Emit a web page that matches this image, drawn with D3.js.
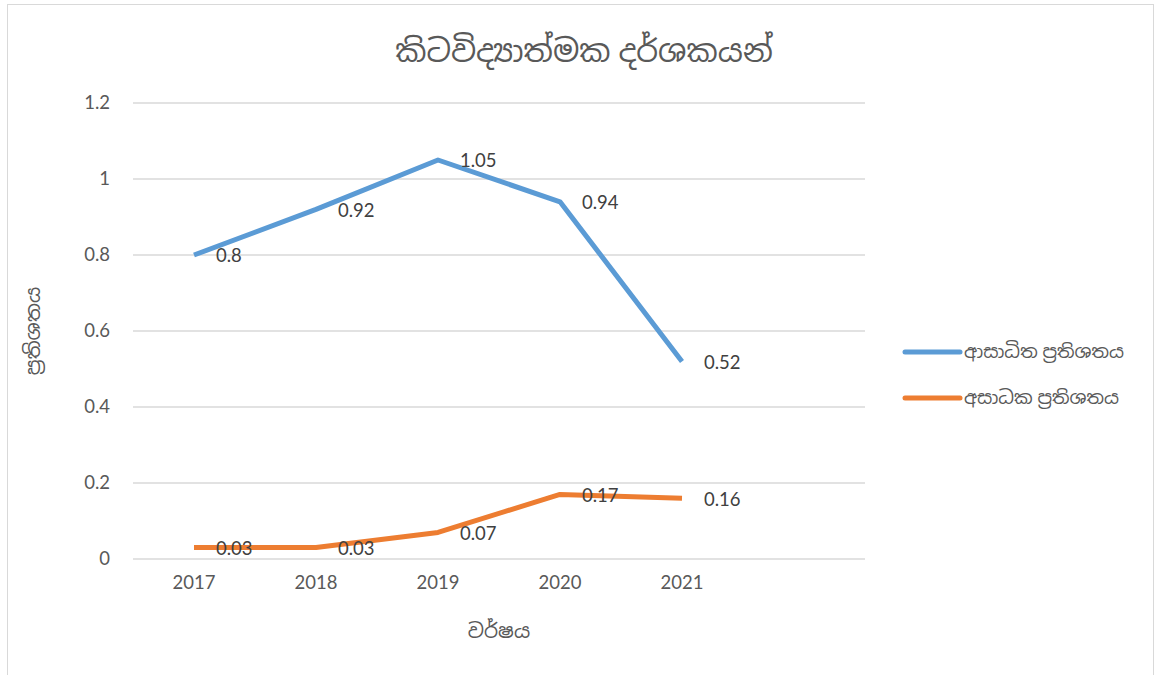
<!DOCTYPE html>
<html><head><meta charset="utf-8">
<script src="https://cdn.jsdelivr.net/npm/d3@7"></script>
<style>body{margin:0;background:#fff}svg{display:block}text{font-family:Lato,"Noto Sans","Noto Sans Sinhala",sans-serif}</style>
</head><body>
<script>
const categories = ["2017","2018","2019","2020","2021"];
const seriesNames = ["ආසාධිත ප්‍රතිශතය","අසාධක ප්‍රතිශතය"];
const infectedPct = [0.8,0.92,1.05,0.94,0.52];
const agentPct = [0.03,0.03,0.07,0.17,0.16];
const yTicks = [0,0.2,0.4,0.6,0.8,1,1.2];
const yTickLabels = ["0","0.2","0.4","0.6","0.8","1","1.2"];
const titleText = "කිටවිද්‍යාත්මක දර්ශකයන්";
const xTitle = "වර්ෂය";
const yTitle = "ප්‍රතිශතය";
const colors = ["#5B9BD5","#ED7D31"];

(function(){
const W=1156,H=675;
const svg=d3.select("body").append("svg").attr("width",W).attr("height",H);
svg.append("rect").attr("x",7.5).attr("y",4.5).attr("width",1146).attr("height",680).attr("fill","#fff").attr("stroke","#d9d9d9");

const pL=133,pR=865,pT=103,pB=559;
const band=(pR-pL)/6;
const x=d3.scaleBand().domain(categories).range([pL,pL+band*categories.length]);
const y=d3.scaleLinear().domain([0,1.2]).range([pB,pT]);

svg.append("g").selectAll("line").data(yTicks).join("line")
  .attr("x1",pL).attr("x2",pR).attr("y1",d=>y(d)).attr("y2",d=>y(d))
  .attr("stroke","#d9d9d9").attr("stroke-width",1.3);

const yAxis=d3.axisLeft(y).tickValues(yTicks).tickFormat((d,i)=>yTickLabels[i]).tickSize(0).tickPadding(0);
const gy=svg.append("g").attr("transform",`translate(110,0)`).call(yAxis);
gy.select(".domain").remove();
gy.selectAll("text").attr("font-size",18.5).attr("fill","#595959");

const xAxis=d3.axisBottom(x).tickSize(0).tickPadding(0);
const gx=svg.append("g").attr("transform",`translate(0,576)`).call(xAxis);
gx.select(".domain").remove();
gx.selectAll("text").attr("font-size",18.5).attr("fill","#595959");
gy.attr("font-family",null); gx.attr("font-family",null);

const line=d3.line().x((d,i)=>x(categories[i])+x.bandwidth()/2).y(d=>y(d));
[infectedPct,agentPct].forEach((s,k)=>{
  svg.append("path").datum(s).attr("d",line).attr("fill","none")
    .attr("stroke",colors[k]).attr("stroke-width",5).attr("stroke-linejoin","round");
});
[infectedPct,agentPct].forEach((s,k)=>{
  svg.append("g").selectAll("text").data(s).join("text")
    .attr("x",(d,i)=>x(categories[i])+x.bandwidth()/2+22)
    .attr("y",(d)=>y(d)+1).attr("dy","0.35em")
    .attr("font-size",18.5).attr("fill","#404040").text(d=>d);
});

svg.append("text").attr("x",584).attr("y",62).attr("text-anchor","middle")
  .attr("font-size",31).attr("fill","#595959").text(titleText);
svg.append("text").attr("x",499).attr("y",638).attr("text-anchor","middle")
  .attr("font-size",20).attr("fill","#595959").text(xTitle);
svg.append("text").attr("transform","translate(40,331) rotate(-90)").attr("text-anchor","middle")
  .attr("font-size",20).attr("fill","#595959").text(yTitle);

const lg=svg.append("g");
seriesNames.forEach((n,k)=>{
  const yy=352+k*46;
  lg.append("line").attr("x1",905).attr("x2",960).attr("y1",yy).attr("y2",yy)
    .attr("stroke",colors[k]).attr("stroke-width",5).attr("stroke-linecap","round");
  lg.append("text").attr("x",964).attr("y",yy).attr("dy","0.35em")
    .attr("font-size",18.5).attr("fill","#595959").text(n);
});
})();
</script>
</body></html>
